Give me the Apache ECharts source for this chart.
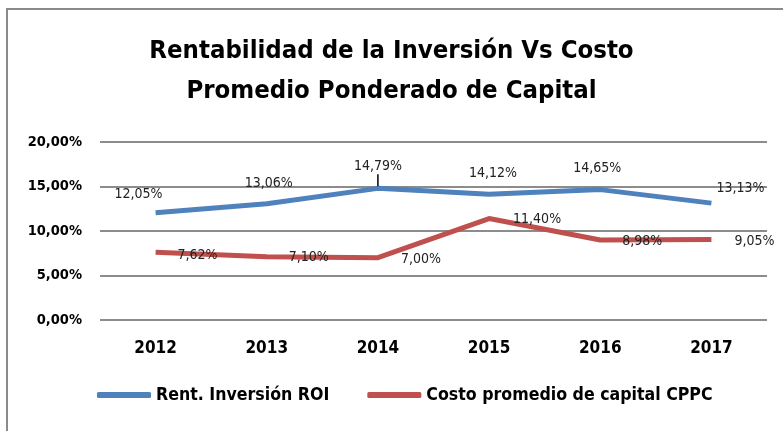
<!DOCTYPE html>
<html><head><meta charset="utf-8">
<script src="https://cdn.jsdelivr.net/npm/echarts@6/dist/echarts.min.js"></script>
<style>html,body{margin:0;padding:0;background:#fff}#c{width:783px;height:431px}</style>
</head><body><div id="c"></div>
<script>
const years = ['2012','2013','2014','2015','2016','2017'];
const roi = [12.05, 13.06, 14.79, 14.12, 14.65, 13.13];
const cppc = [7.62, 7.10, 7.00, 11.40, 8.98, 9.05];
const yTicks = [0, 5, 10, 15, 20];
const titleLines = ['Rentabilidad de la Inversión Vs Costo', 'Promedio Ponderado de Capital'];
const seriesNames = ['Rent. Inversión ROI', 'Costo promedio de capital CPPC'];

const F = '"Liberation Sans Narrow","DejaVu Sans Condensed","Open Sans",sans-serif';
const fmt = v => v.toFixed(2).replace('.', ',') + '%';
const roiOffsets = [[-17,3],[2,1],[0,0],[4,0],[-3,0],[29,6]];
const cppcOffsets = [[8,3],[8,1],[9,2],[10,1],[8,1],[9,2]];
const leaderIndex = 2;

const chart = echarts.init(document.getElementById('c'));
chart.setOption({
  animation:false,
  title:{text:titleLines.join('\n'), left:'center', top:26,
    textStyle:{fontFamily:F, fontSize:25.5, fontWeight:'bold', color:'#000', lineHeight:40}},
  graphic:[{type:'rect', shape:{x:7, y:9, width:800, height:440}, style:{fill:'none', stroke:'#8a8a8a', lineWidth:2}}],
  grid:{left:100, right:16, top:142, bottom:111},
  legend:{bottom:22, left:92, itemWidth:54, itemHeight:6, itemGap:38,
    icon:'roundRect',
    textStyle:{fontFamily:F, fontSize:17.6, fontWeight:'bold', color:'#000'}},
  xAxis:{type:'category', data:years, boundaryGap:true,
    axisLine:{show:false}, axisTick:{show:false},
    axisLabel:{fontFamily:F, fontSize:17, fontWeight:'bold', color:'#000', margin:20}},
  yAxis:{type:'value', min:yTicks[0], max:yTicks[yTicks.length-1], interval:5,
    axisLabel:{formatter:v=>fmt(v), fontFamily:F, fontSize:14.5, fontWeight:'bold', color:'#000', margin:18},
    splitLine:{lineStyle:{color:'#8c8c8c', width:2}}},
  series:[
    {name:seriesNames[0], type:'line',
      data:roi.map((v,i)=>({value:v, label:{offset:roiOffsets[i], distance:i===leaderIndex?2:14}})),
      symbol:'circle', symbolSize:0, showSymbol:true, lineStyle:{width:5, color:'#4F81BD'}, itemStyle:{color:'#4F81BD'},
      label:{show:true, position:'top', distance:14,
        formatter:p=>p.dataIndex===leaderIndex ? '{a|'+fmt(p.value)+'}\n{t|}' : fmt(p.value),
        rich:{a:{fontFamily:F, fontSize:14, color:'#222', lineHeight:17}, t:{width:1.5, height:12, backgroundColor:'#000'}},
        fontFamily:F, fontSize:14, color:'#222'}},
    {name:seriesNames[1], type:'line', data:cppc.map((v,i)=>({value:v, label:{offset:cppcOffsets[i]}})),
      symbol:'circle', symbolSize:0, showSymbol:true, lineStyle:{width:5, color:'#C0504D'}, itemStyle:{color:'#C0504D'},
      label:{show:true, position:'right', distance:14, formatter:p=>fmt(p.value), fontFamily:F, fontSize:14, color:'#222'}}
  ]
});
</script></body></html>
